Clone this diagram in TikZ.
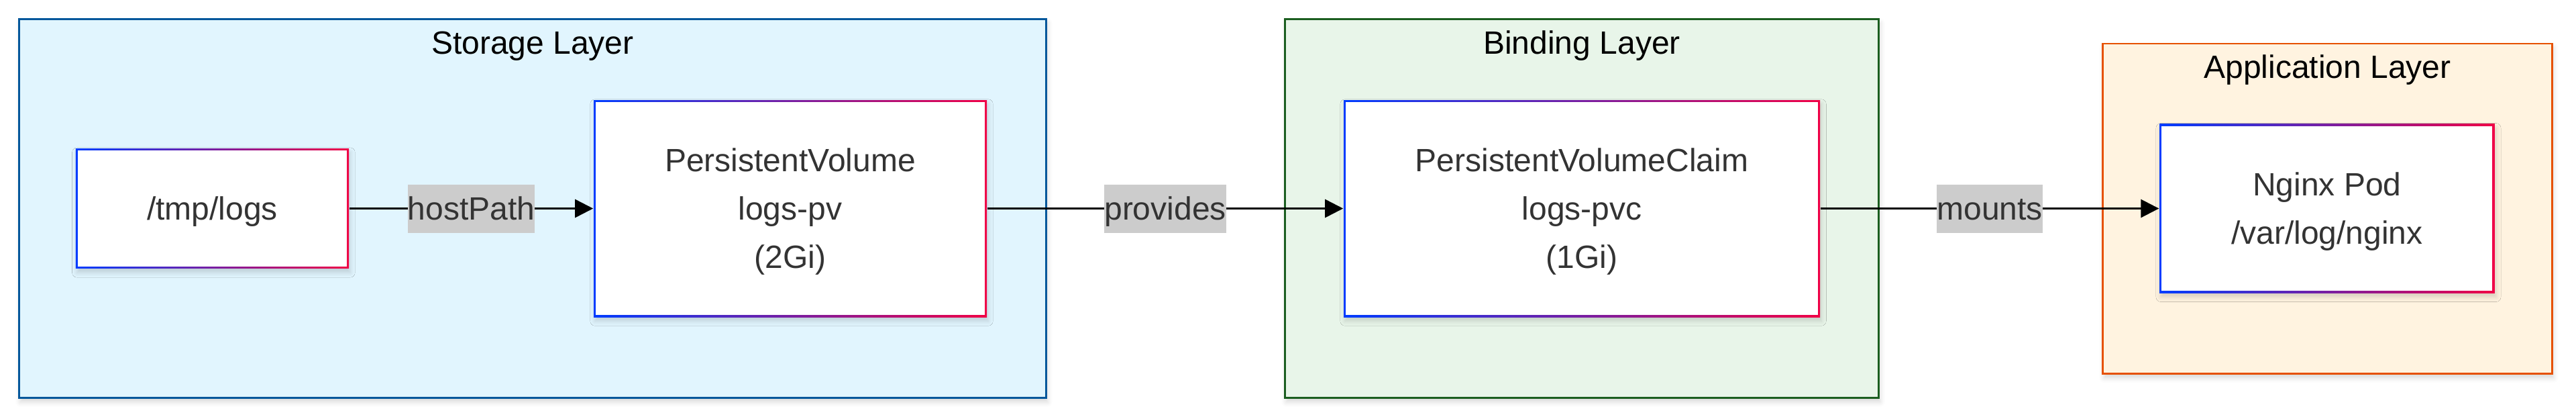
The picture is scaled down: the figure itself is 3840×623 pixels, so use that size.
\documentclass[tikz,border=0pt]{standalone}
\usepackage{fontspec}
\setmainfont{Liberation Sans}
\usetikzlibrary{arrows.meta,shadows.blur}
\definecolor{gb}{RGB}{0,60,255}
\definecolor{gr}{RGB}{240,0,70}
\definecolor{stS}{HTML}{01579B}
\definecolor{stF}{HTML}{E1F5FE}
\definecolor{biS}{HTML}{1B5E20}
\definecolor{biF}{HTML}{E8F5E9}
\definecolor{apS}{HTML}{E65100}
\definecolor{apF}{HTML}{FFF3E0}
\definecolor{txt}{HTML}{333333}
\definecolor{lbl}{HTML}{CCCCCC}
\newcommand\mstrut{\rule[-4.85pt]{0pt}{18pt}}
\begin{document}
\begin{tikzpicture}[x=0.25pt,y=-0.25pt,
  every node/.style={font=\fontsize{12}{18}\selectfont},
  layerbox/.style={rectangle, line width=0.7pt, inner sep=0pt,
    blur shadow={shadow xshift=0.5pt, shadow yshift=-1.5pt, shadow blur radius=1.8pt, shadow opacity=16}},
  ttl/.style={anchor=base, text=black, inner sep=0pt},
  gnode/.style={rectangle, fill=white, inner sep=0pt, align=center, text=txt,
    blur shadow={shadow xshift=0.5pt, shadow yshift=-1.5pt, shadow blur radius=1.8pt, shadow opacity=16},
    path picture={
      \shade[left color=gb, right color=gr] (path picture bounding box.south west) rectangle (path picture bounding box.north east);
      \fill[white] ([shift={(0.825pt,0.825pt)}]path picture bounding box.south west) rectangle ([shift={(-0.825pt,-0.825pt)}]path picture bounding box.north east);
    }},
  lab/.style={fill=lbl, text=txt, inner sep=0pt, text height=13.15pt, text depth=4.85pt},
  arr/.style={line width=0.68pt, -{Triangle[length=6.75pt,width=6.75pt]}}
]
\useasboundingbox (0,0) rectangle (3840,623);
% layers
\node[layerbox, draw=stS, fill=stF, minimum width=382.7pt, minimum height=141pt] (storage) at (793.9,310.5) {};
\node[layerbox, draw=biS, fill=biF, minimum width=221.25pt, minimum height=141pt] (binding) at (2358,310.5) {};
\node[layerbox, draw=apS, fill=apF, minimum width=167.4pt, minimum height=122.9pt] (app) at (3469.4,310.75) {};
\node[ttl] (storageT) at (793.9,80) {Storage Layer};
\node[ttl] (bindingT) at (2358,80) {Binding Layer};
\node[ttl] (appT) at (3469.4,116.5) {Application Layer};
% nodes
\node[gnode, minimum width=101.8pt, minimum height=44.7pt] (tmp) at (316.4,310.5) {\mstrut/tmp/logs};
\node[gnode, minimum width=146.5pt, minimum height=80.75pt] (pv) at (1178,310.5) {\mstrut PersistentVolume\\\mstrut logs-pv\\\mstrut (2Gi)};
\node[gnode, minimum width=177.5pt, minimum height=80.75pt] (pvc) at (2358,310.5) {\mstrut PersistentVolumeClaim\\\mstrut logs-pvc\\\mstrut (1Gi)};
\node[gnode, minimum width=124.9pt, minimum height=62.9pt] (nginx) at (3468.9,310.5) {\mstrut Nginx Pod\\\mstrut /var/log/nginx};
% connectors
\draw[arr] (tmp.east) -- node[lab, midway] (l1) {hostPath} (pv.west);
\draw[arr] (pv.east) -- node[lab, midway] (l2) {provides} (pvc.west);
\draw[arr] (pvc.east) -- node[lab, midway] (l3) {mounts} (nginx.west);
\end{tikzpicture}
\end{document}
